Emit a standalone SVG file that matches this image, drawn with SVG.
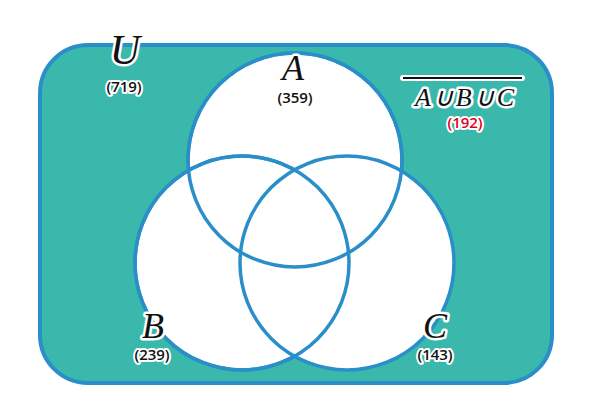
<svg xmlns="http://www.w3.org/2000/svg" width="590" height="413" viewBox="0 0 590 413">
<style>
.c{fill:#fff;stroke:#2a8fc8;stroke-width:3.5}
.v{font-family:"Liberation Serif",serif;font-style:italic;fill:#111;stroke:#fff;stroke-width:5;paint-order:stroke;stroke-linejoin:round;text-anchor:middle}
.n{font-family:"Open Sans","Liberation Sans",sans-serif;font-size:15px;font-weight:600;fill:#111;stroke:#fff;stroke-width:4;paint-order:stroke;stroke-linejoin:round;text-anchor:middle}
</style>
<rect width="590" height="413" fill="#fff"/>
<g id="U"><rect x="40" y="45" width="512" height="338" rx="48" fill="#3ab8ab" stroke="#2a8fc8" stroke-width="4"/></g>
<g id="circles">
<circle class="c" cx="295" cy="160" r="107"/>
<circle class="c" cx="242" cy="263" r="107"/>
<circle class="c" cx="347" cy="263" r="107"/>
<g fill="none" stroke="#2a8fc8" stroke-width="3.5">
<circle cx="295" cy="160" r="107"/>
<circle cx="242" cy="263" r="107"/>
</g>
</g>
<g id="labels">
<text class="v" x="125" y="64" font-size="42">U</text>
<text class="n" x="124" y="92">(719)</text>
<text class="v" x="293" y="80" font-size="36">A</text>
<text class="n" x="295" y="103">(359)</text>
<text class="v" x="153" y="338" font-size="36">B</text>
<text class="n" x="152" y="360">(239)</text>
<text class="v" x="435" y="338" font-size="36">C</text>
<text class="n" x="435" y="360">(143)</text>
<line x1="403" y1="78" x2="522" y2="78" stroke="#fff" stroke-width="6" stroke-linecap="round"/>
<line x1="403" y1="78" x2="522" y2="78" stroke="#111" stroke-width="2"/>
<text class="v" x="466" y="106" font-size="26" letter-spacing="3">A∪B∪C</text>
<text class="n" x="465" y="128" style="fill:#e0001b">(192)</text>
</g>
</svg>
